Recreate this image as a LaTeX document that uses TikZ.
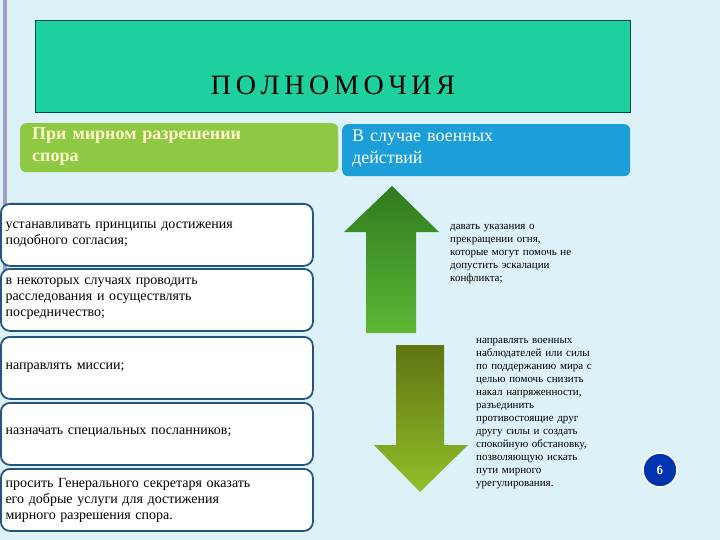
\documentclass[tikz,border=0pt]{standalone}
\usepackage{fontspec}
\setmainfont{Liberation Serif}
\begin{document}
\begin{tikzpicture}[x=1pt,y=-1pt,
  lbox/.style={draw=boxb,line width=1.8pt,fill=white,rounded corners=9pt,minimum width=312pt,minimum height=62pt,anchor=north west,inner sep=6pt},
  ltext/.style={text width=300pt,align=left,font=\fontsize{14}{16}\selectfont}]
\definecolor{bg}{HTML}{DDF2F8}
\definecolor{teal1}{HTML}{1DD09E}
\definecolor{hgreen}{HTML}{8FC843}
\definecolor{hblue}{HTML}{1C9FD9}
\definecolor{boxb}{HTML}{24557E}
\definecolor{upt}{HTML}{2F7A1F}
\definecolor{upb}{HTML}{5DB835}
\definecolor{dnt}{HTML}{5E7412}
\definecolor{dnb}{HTML}{93BF2A}
\fill[bg] (0,0) rectangle (720,540);
\useasboundingbox (0,0) rectangle (720,540);
\fill[blue!25!gray!60] (3,0) rectangle (7,270);
\node[draw=teal!60!black,line width=1pt,fill=teal1,minimum width=595pt,minimum height=92pt,anchor=north west] (top) at (35,20) {};
\node[font=\fontsize{28}{30}\selectfont] (title) at (333,85) {П\,О\,Л\,Н\,О\,М\,О\,Ч\,И\,Я};
\node[fill=hgreen,rounded corners=6pt,minimum width=318pt,minimum height=49pt,anchor=north west] (gh) at (20,123) {};
\node[anchor=north west,text width=300pt,align=left,text=yellow!20,font=\bfseries\fontsize{18}{22}\selectfont,inner sep=0pt] (ght) at (32,128) {При мирном разрешении\\спора};
\node[fill=hblue,rounded corners=6pt,minimum width=288pt,minimum height=52pt,anchor=north west] (bh) at (342,124) {};
\node[anchor=north west,text width=260pt,align=left,text=white,font=\fontsize{18}{22}\selectfont,inner sep=0pt] (bht) at (352,130) {В случае военных\\действий};
\node[lbox] (b1) at (0,203) {}; \node[ltext,anchor=west] at (2,235) {устанавливать принципы достижения\\подобного согласия;};
\node[lbox] (b2) at (0,268) {}; \node[ltext,anchor=west] at (2,299) {в некоторых случаях проводить\\расследования и осуществлять\\посредничество;};
\node[lbox] (b3) at (0,336) {}; \node[ltext,anchor=west] at (2,368) {направлять миссии;};
\node[lbox] (b4) at (0,402) {}; \node[ltext,anchor=west] at (2,433) {назначать специальных посланников;};
\node[lbox] (b5) at (0,468) {}; \node[ltext,anchor=west] at (2,500) {просить Генерального секретаря оказать\\его добрые услуги для достижения\\мирного разрешения спора.};
\shade[top color=upt,bottom color=upb] (392,186) -- (439,232) -- (416,232) -- (416,333) -- (366,333) -- (366,232) -- (344,232) -- cycle;
\shade[top color=dnt,bottom color=dnb] (396,345) -- (444,345) -- (444,445) -- (468,445) -- (420,492) -- (374,445) -- (396,445) -- cycle;
\node[anchor=north west,text width=160pt,align=left,font=\fontsize{11}{13}\selectfont,inner sep=0pt] (t1) at (450,224) {давать указания о\\прекращении огня,\\которые могут помочь не\\допустить эскалации\\конфликта;};
\node[anchor=north west,text width=170pt,align=left,font=\fontsize{11}{13}\selectfont,inner sep=0pt] (t2) at (476,338) {направлять военных\\наблюдателей или силы\\по поддержанию мира с\\целью помочь снизить\\накал напряженности,\\разъединить\\противостоящие друг\\другу силы и создать\\спокойную обстановку,\\позволяющую искать\\пути мирного\\урегулирования.};
\node[circle,fill=blue!60!black!80!cyan,draw=white,line width=1.5pt,minimum size=34pt,text=white,font=\bfseries\fontsize{12}{14}\selectfont\sffamily] (num) at (660,470) {6};
\end{tikzpicture}
\end{document}
